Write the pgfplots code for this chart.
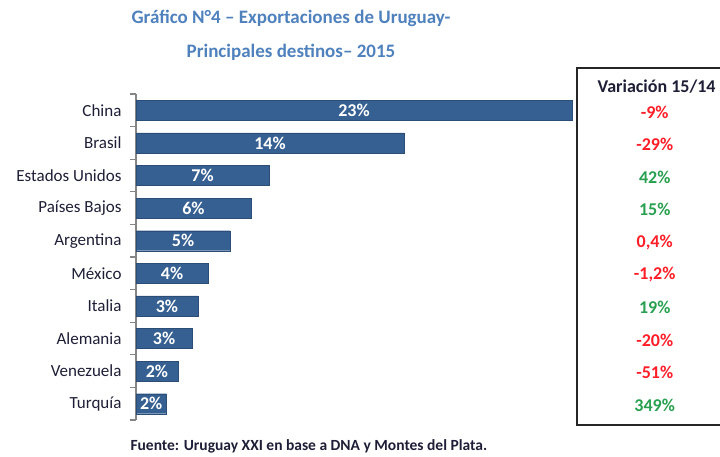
\documentclass[border=0pt]{standalone}
\usepackage{pgfplots}
\pgfplotsset{compat=1.18}
\usepackage{pgfplotstable}
\usepackage{fontspec}
\setmainfont{Carlito}

\definecolor{barblue}{RGB}{55,96,146}
\definecolor{titleblue}{RGB}{79,129,189}
\definecolor{labdark}{RGB}{30,30,55}
\definecolor{negred}{RGB}{255,30,40}
\definecolor{posgreen}{RGB}{40,160,80}
\definecolor{axgray}{RGB}{134,134,134}
\tikzset{vnode/.style={font=\bfseries\fontsize{18}{20}\selectfont}}

% share of exports 2015, index 0 = top bar
\pgfplotstableread{
i  v     lab
0  22.95 23
1  14.1  14
2  7.0   7
3  6.05  6
4  4.95  5
5  3.8   4
6  3.25  3
7  2.95  3
8  2.2   2
9  1.6   2
}\shares

\begin{document}
\begin{tikzpicture}
\useasboundingbox (0pt,0pt) rectangle (720pt,-456pt);

\node[font=\bfseries\fontsize{19}{22}\selectfont, text=titleblue] at (291pt,-18pt) {Gráfico N°4 – Exportaciones de Uruguay-};
\node[font=\bfseries\fontsize{19}{22}\selectfont, text=titleblue] at (291pt,-52pt) {Principales destinos– 2015};

\begin{axis}[
  at={(136pt,-420pt)}, anchor=south west,
  scale only axis, width=437pt, height=326pt,
  xmin=0, xmax=23, ymin=-0.5, ymax=9.5, y dir=reverse,
  axis x line=none, axis y line*=left,
  y axis line style={axgray, line width=1.3pt},
  ytick={0,...,9},
  yticklabels={China,Brasil,Estados Unidos,Países Bajos,Argentina,México,Italia,Alemania,Venezuela,Turquía},
  major tick length=0pt,
  yticklabel style={font=\fontsize{17}{19}\selectfont, text=labdark, xshift=-11pt},
  extra y ticks={-0.5,0.5,...,9.5}, extra y tick labels={},
  extra y tick style={tick align=outside, major tick length=6pt, tick style={axgray, line width=1.3pt}},
  clip=false]
  \addplot[xbar, bar width=20pt, fill=barblue, draw=barblue!80!black] table[x=v, y=i] {\shares};
  \addplot[draw=none, mark=none, nodes near coords={\pgfplotspointmeta\%}, point meta=explicit symbolic,
    every node near coord/.style={anchor=center, font=\bfseries\fontsize{18}{20}\selectfont, text=white}]
    table[x expr=\thisrow{v}/2, y=i, meta=lab] {\shares};
  % variation column
  \node[vnode, text=labdark] at (axis cs:27.4,-0.72) {Variación 15/14};
  \node[vnode, text=negred]   at (axis cs:27.3,0.05) {-9\%};
  \node[vnode, text=negred]   at (axis cs:27.3,1.05) {-29\%};
  \node[vnode, text=posgreen] at (axis cs:27.3,2.05) {42\%};
  \node[vnode, text=posgreen] at (axis cs:27.3,3.05) {15\%};
  \node[vnode, text=negred]   at (axis cs:27.3,4.05) {0,4\%};
  \node[vnode, text=negred]   at (axis cs:27.3,5.05) {-1,2\%};
  \node[vnode, text=posgreen] at (axis cs:27.3,6.05) {19\%};
  \node[vnode, text=negred]   at (axis cs:27.3,7.05) {-20\%};
  \node[vnode, text=negred]   at (axis cs:27.3,8.05) {-51\%};
  \node[vnode, text=posgreen] at (axis cs:27.3,9.05) {349\%};
\end{axis}

\draw[line width=1.3pt, black!85] (720pt,-68pt) -- (577pt,-68pt) -- (577pt,-425pt) -- (720pt,-425pt);

\node[overlay, font=\bfseries\fontsize{15.5}{17}\selectfont, text=labdark, anchor=west] at (127pt,-446pt) {Fuente: Uruguay XXI en base a DNA y Montes del Plata.};
\end{tikzpicture}
\end{document}
